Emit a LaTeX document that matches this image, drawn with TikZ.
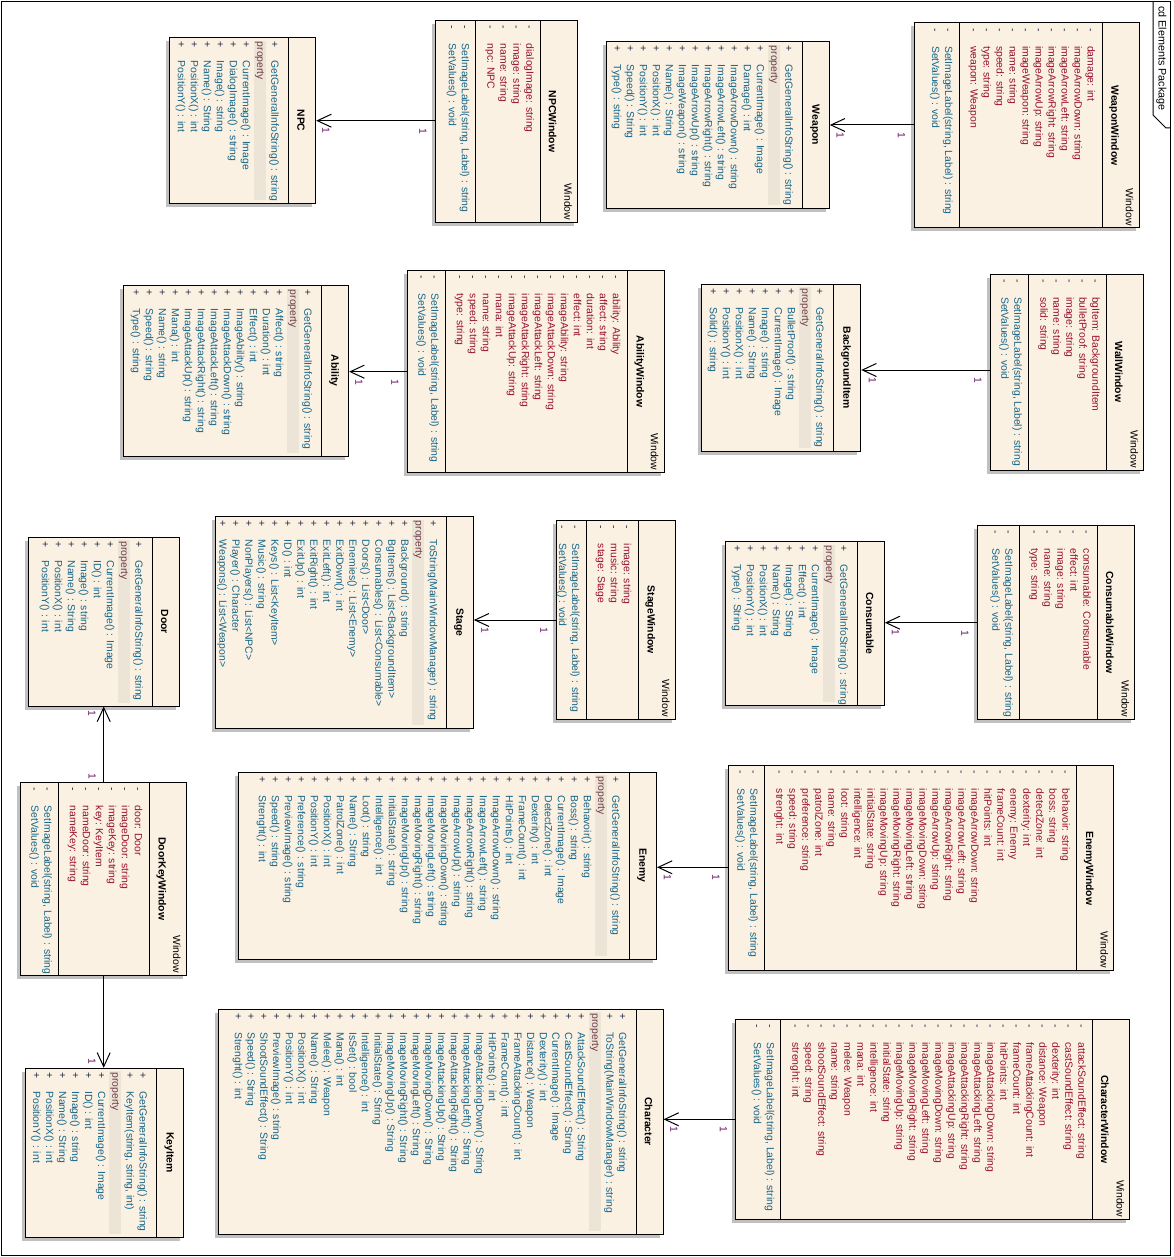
\documentclass[tikz,border=0pt]{standalone}
\usepackage{fontspec}
\setmainfont{Liberation Sans}
\usetikzlibrary{arrows.meta,shadows,fit}
\definecolor{boxfill}{RGB}{251,241,227}
\definecolor{shadowc}{RGB}{192,192,192}
\definecolor{attrc}{RGB}{150,16,48}
\definecolor{opc}{RGB}{20,100,135}
\definecolor{signc}{RGB}{30,40,70}
\definecolor{propc}{RGB}{110,60,70}
\definecolor{propband}{RGB}{236,228,214}
\definecolor{multc}{RGB}{110,20,100}
\newcommand\mfont{\fontsize{10.4}{12}\selectfont}
\tikzset{
 clsbox/.style={draw, line width=1pt, fill=boxfill, inner sep=0pt,
   drop shadow={shadow xshift=-3.5pt, shadow yshift=-3.5pt, fill=shadowc, opacity=1}},
 sepline/.style={line width=1pt},
 member/.style={rotate=-90, anchor=mid west, inner sep=0pt, font=\mfont},
 vis/.style={rotate=-90, anchor=mid, inner sep=0pt, font=\mfont, text=signc},
 cname/.style={rotate=-90, anchor=center, inner sep=0pt, font=\mfont\bfseries},
 wlabel/.style={rotate=-90, anchor=east, inner sep=0pt, font=\mfont},
 mult/.style={rotate=-90, anchor=center, inner sep=0pt, font=\mfont, text=multc},
 assoc/.style={line width=1pt, -{Straight Barb[length=14pt,width=13pt]}},
}
\newcommand\umlclass[5]{\node[clsbox, fit={(#2,#3) (#4,#5)}] (#1) {};}
\newcommand\attrlist[4]{%
 \foreach \itm [count=\i from 0] in {#4}{%
   \node[vis] (#1-av\i) at ({#2-13*\i},{#3+7}) {-};
   \node[member, text=attrc] (#1-a\i) at ({#2-13*\i},{#3+23}) {\itm};
 }}
\newcommand\oplist[7]{%
 \foreach \itm [count=\i from 0] in {#7}{%
   \node[vis] (#1-#2v\i) at ({#3-#5*\i},{#4+7}) {#6};
   \node[member, text=opc] (#1-#2\i) at ({#3-#5*\i},{#4+23}) {\itm};
 }}
\newcommand\winclass[9]{%
 \umlclass{#1}{#2}{#3}{#4}{#5}
 \draw[sepline] (#6,#3) -- (#6,#5);
 \draw[sepline] (#7,#3) -- (#7,#5);
 \node[cname] (#1-name) at ({#6+12},{(#3+#5)/2}) {#8};
 \node[wlabel] (#1-win) at ({#6+27.5},{#5-2}) {Window};
 \attrlist{#1}{#6-11.7}{#3}{#9}
 \oplist{#1}{o}{#7-11.3}{#3}{13}{-}{{SetImageLabel(string, Label) : string},{SetValues() : void}}
}
\def\rowsp{13}
\newcommand\entclass[9]{%
 \umlclass{#1}{#2}{#3}{#4}{#5}
 \draw[sepline] (#6,#3) -- (#6,#5);
 \node[cname] (#1-name) at ({(#6+#4)/2-1},{(#3+#5)/2}) {#7};
 \foreach \itm [count=\i from 0] in {#8}{\xdef\npre{\i}}
 \pgfmathsetmacro\pc{#6-14.3-\rowsp*\npre-14.25}
 \fill[propband] ({\pc-6},{#3+3}) rectangle ({\pc+6},{#5-3});
 \node[member,text=propc] (#1-prop) at (\pc,{#3+4}) {property};
 \oplist{#1}{p}{#6-14.3}{#3}{\rowsp}{+}{#8}
 \oplist{#1}{q}{\pc-14.25}{#3}{\rowsp}{+}{#9}
}
\begin{document}
\begin{tikzpicture}[x=1pt,y=-1pt]
\fill[white] (0,0) rectangle (1174,1257);
\useasboundingbox (0,0) rectangle (1174,1257);
% frame
\draw[line width=1pt] (1.5,1.5) rectangle (1170,1255.5);
\draw[line width=1pt] (1153,1.5) -- (1153,115) -- (1166,128) -- (1170,128);
\node[rotate=-90, anchor=west, inner sep=0pt, font=\fontsize{10.8}{12}\selectfont] (frametitle) at (1161.5,6) {cd Elements Package};

% windows
\winclass{ww}{914}{23}{1139}{228}{1102}{959}{WeaponWindow}{damage: int, imageArrowDown: string, imageArrowLeft: string, imageArrowRight: string, imageArrowUp: string, imageWeapon: string, name: string, speed: string, type: string, weapon: Weapon}
\winclass{nw}{435.7}{20.7}{577.3}{222.3}{540.7}{475.7}{NPCWindow}{dialogImage: string, image: string, name: string, npc: NPC}
\winclass{walw}{990.7}{274}{1143.3}{470}{1106.7}{1028.3}{WallWindow}{bgItem: BackgroundItem, bulletProof: string, image: string, name: string, solid: string}
\winclass{aw}{407.7}{270.7}{664.7}{472.3}{627.2}{445.3}{AbilityWindow}{ability: Ability, affect: string, duration: int, effect: int, imageAbility: string, imageAttackDown: string, imageAttackLeft: string, imageAttackRight: string, imageAttackUp: string, mana: int, name: string, speed: string, type: string}
\winclass{cw}{977.3}{525.7}{1134.3}{719.3}{1097.7}{1019.3}{ConsumableWindow}{consumable: Consumable, effect: int, image: string, name: string, type: string}
\winclass{sw}{556.7}{520.7}{675}{719}{638.3}{586}{StageWindow}{image: string, music: string, stage: Stage}
\winclass{dkw}{20.7}{782.7}{186.7}{975}{149.3}{58.3}{DoorKeyWindow}{door: Door, imageDoor: string, imageKey: string, key: KeyItem, nameDoor: string, nameKey: string}
\winclass{ew}{728.3}{765.7}{1113.3}{970.7}{1076.7}{764.3}{EnemyWindow}{behavoir: string, boss: string, detectZone: int, dexterity: int, enemy: Enemy, frameCount: int, hitPoints: int, imageArrowDown: string, imageArrowLeft: string, imageArrowRight: string, imageArrowUp: string, imageMovingDown: string, imageMovingLeft: string, imageMovingRight: string, imageMovingUp: string, initialState: string, intelligence: int, loot: string, name: string, patrolZone: int, preference: string, speed: string, strenght: int}
\winclass{chw}{735.7}{1019.3}{1129.3}{1219.3}{1092.7}{780.7}{CharacterWindow}{attackSoundEffect: string, castSoundEffect: string, dexterity: int, distance: Weapon, frameAttackingCount: int, frameCount: int, hitPoints: int, imageAttackingDown: string, imageAttackingLeft: string, imageAttackingRight: string, imageAttackingUp: string, imageMovingDown: string, imageMovingLeft: string, imageMovingRight: string, imageMovingUp: string, initialState: string, intelligence: int, mana: int, melee: Weapon, name: string, shootSoundEffect: string, speed: string, strenght: int}

% entities
\entclass{wp}{606.7}{41.7}{829.3}{208.3}{802.3}{Weapon}{GetGeneralInfoString() : string}{CurrentImage() : Image, Damage() : int, ImageArrowDown() : string, ImageArrowLeft() : string, ImageArrowRight() : string, ImageArrowUp() : string, ImageWeapon() : string, Name() : String, PositionX() : int, PositionY() : int, Speed() : String, Type() : string}
\entclass{npc}{169.3}{37.7}{315.7}{203.3}{288.3}{NPC}{GetGeneralInfoString() : string}{CurrentImage() : Image, DialogImage() : string, Image() : string, Name() : String, PositionX() : int, PositionY() : int}
\entclass{bg}{701.7}{284.3}{860.7}{451}{833.3}{BackgroundItem}{GetGeneralInfoString() : string}{BulletProof() : string, CurrentImage() : Image, Image() : string, Name() : String, PositionX() : int, PositionY() : int, Solid() : string}
\entclass{ab}{123.8}{285.7}{348.6}{456}{321.4}{Ability}{GetGeneralInfoString() : string}{Affect() : string, Duration() : int, Effect() : int, ImageAbility() : string, ImageAttackDown() : string, ImageAttackLeft() : string, ImageAttackRight() : string, ImageAttackUp() : string, Mana() : int, Name() : string, Speed() : string, Type() : string}
\entclass{cons}{725.7}{541.7}{884.3}{705}{857.3}{Consumable}{GetGeneralInfoString() : string}{CurrentImage() : Image, Effect() : int, Image() : String, Name() : String, PositionX() : int, PositionY() : int, Type() : String}
\entclass{st}{215.7}{516.7}{473.3}{728.3}{446.7}{Stage}{ToString(MainWindowManager) : string}{Background() : string, BgItems() : List<BackgroundItem>, Consumables() : List<Consumable>, Doors() : List<Door>, Enemies() : List<Enemy>, ExitDown() : int, ExitLeft() : int, ExitRight() : int, ExitUp() : int, ID() : int, Keys() : List<KeyItem>, Music() : string, NonPlayers() : List<NPC>, Player() : Character, Weapons() : List<Weapon>}
\entclass{door}{28.3}{537.3}{179}{706}{152.3}{Door}{GetGeneralInfoString() : string}{CurrentImage() : Image, ID() : int, Image() : string, Name() : String, PositionX() : int, PositionY() : int}
\entclass{en}{238.3}{772.3}{656.5}{959}{629.3}{Enemy}{GetGeneralInfoString() : string}{Behavoir() : string, Boss() : string, CurrentImage() : Image, DetectZone() : int, Dexterity() : int, FrameCount() : int, HitPoints() : int, ImageArrowDown() : string, ImageArrowLeft() : string, ImageArrowRight() : string, ImageArrowUp() : string, ImageMovingDown() : string, ImageMovingLeft() : string, ImageMovingRight() : string, ImageMovingUp() : string, InitialState() : string, Intelligence() : int, Loot() : string, Name() : String, PatrolZone() : int, PositionX() : int, PositionY() : int, Preference() : string, PreviewImage() : string, Speed() : string, Strenght() : int}
\entclass{ki}{25.1}{1068.3}{183.5}{1237}{156.5}{KeyItem}{GetGeneralInfoString() : string, {KeyItem(string, string, int)}}{CurrentImage() : Image, ID() : int, Image() : string, Name() : String, PositionX() : int, PositionY() : int}
\def\rowsp{12.7}
\entclass{ch}{218.8}{1009.3}{663}{1234}{636}{Character}{GetGeneralInfoString() : string, ToString(MainWindowManager) : string}{AttackSoundEffect() : String, CastSoundEffect() : String, CurrentImage() : Image, Dexterity() : int, Distance() : Weapon, FrameAttackingCount() : int, FrameCount() : int, HitPoints() : int, ImageAttackingDown() : String, ImageAttackingLeft() : String, ImageAttackingRight() : String, ImageAttackingUp() : String, ImageMovingDown() : String, ImageMovingLeft() : String, ImageMovingRight() : String, ImageMovingUp() : String, InitialState() : String, Intelligence() : int, IsSet() : bool, Mana() : int, Melee() : Weapon, Name() : String, PositionX() : int, PositionY() : int, PreviewImage() : string, ShootSoundEffect() : String, Speed() : String, Strenght() : int}
\def\rowsp{13}

% connectors
\coordinate (y-ww) at (0,125);
\draw[assoc] (ww.west |- y-ww) -- (wp.east |- y-ww);
\node[mult] (m-ww-t) at (840.3,135) {1};
\node[mult] (m-ww-s) at (901.5,135.5) {1};

\coordinate (y-nw) at (0,120.7);
\draw[assoc] (nw.west |- y-nw) -- (npc.east |- y-nw);
\node[mult] (m-nw-t) at (326,130.7) {1};
\node[mult] (m-nw-s) at (423,131) {1};

\coordinate (y-walw) at (0,370);
\draw[assoc] (walw.west |- y-walw) -- (bg.east |- y-walw);
\node[mult] (m-walw-t) at (872.5,380) {1};
\node[mult] (m-walw-s) at (978,380.5) {1};

\coordinate (y-aw) at (0,371.7);
\draw[assoc] (aw.west |- y-aw) -- (ab.east |- y-aw);
\node[mult] (m-aw-t) at (359,382.5) {1};
\node[mult] (m-aw-s) at (395,382.5) {1};

\coordinate (y-cw) at (0,622.7);
\draw[assoc] (cw.west |- y-cw) -- (cons.east |- y-cw);
\node[mult] (m-cw-t) at (895.5,632) {1};
\node[mult] (m-cw-s) at (965,633) {1};

\coordinate (y-sw) at (0,620);
\draw[assoc] (sw.west |- y-sw) -- (st.east |- y-sw);
\node[mult] (m-sw-t) at (485,630.5) {1};
\node[mult] (m-sw-s) at (544,630.5) {1};

\coordinate (y-ew) at (0,867.3);
\draw[assoc] (ew.west |- y-ew) -- (en.east |- y-ew);
\node[mult] (m-ew-t) at (667.5,877.5) {1};
\node[mult] (m-ew-s) at (716,877.5) {1};

\coordinate (y-chw) at (0,1119.3);
\draw[assoc] (chw.west |- y-chw) -- (ch.east |- y-chw);
\node[mult] (m-chw-t) at (674,1129.5) {1};
\node[mult] (m-chw-s) at (723.5,1129.5) {1};

\coordinate (x-dk) at (103.7,0);
\draw[assoc] (dkw.north -| x-dk) -- (door.south -| x-dk);
\node[mult] (m-dk-t) at (92,713) {1};
\node[mult] (m-dk-s) at (92.3,776.5) {1};

\draw[assoc] (dkw.south -| x-dk) -- (ki.north -| x-dk);
\node[mult] (m-ki-t) at (92,1061.7) {1};
\end{tikzpicture}
\end{document}
